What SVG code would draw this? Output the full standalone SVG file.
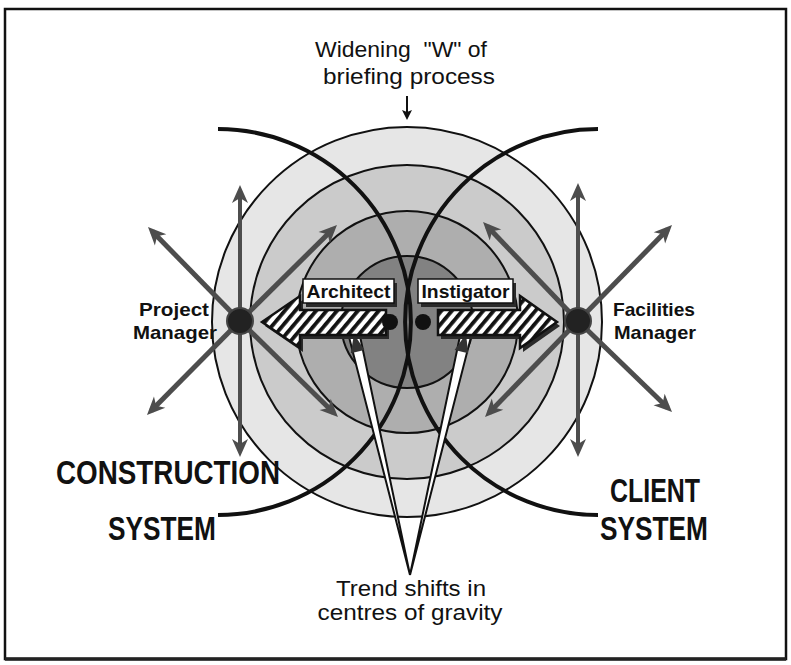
<svg xmlns="http://www.w3.org/2000/svg" width="791" height="665" viewBox="0 0 791 665">
<style>
.lbl{font-family:"Liberation Sans",Arial,sans-serif;fill:#111;}
.reg{font-weight:normal;font-size:22px;}
.med{font-weight:bold;font-size:19px;}
.big{font-weight:bold;font-size:33px;}
.ring{stroke:#111;stroke-width:2;}
.sys{fill:none;stroke:#111;stroke-width:4;}
.ga{stroke:#4d4d4d;stroke-width:5;fill:none;marker-end:url(#ah);}
.gv{stroke:#4d4d4d;stroke-width:4;fill:none;marker-start:url(#ah);marker-end:url(#ah);}
.hat{fill:url(#hatch);stroke:#111;stroke-width:2.5;stroke-linejoin:miter;}
.shadow{fill:#2a2a2a;}
.box{fill:#fff;stroke:#111;stroke-width:1.5;}
.wedge{fill:#fff;stroke:#111;stroke-width:2;stroke-linejoin:miter;}
</style>
<defs>
<pattern id="hatch" patternUnits="userSpaceOnUse" width="8" height="8" patternTransform="rotate(40)">
<rect width="8" height="8" fill="#fff"/>
<rect x="0" y="0" width="3.8" height="8" fill="#111"/>
</pattern>
<marker id="ah" viewBox="-13 -9 20 18" refX="0" refY="0" markerWidth="20" markerHeight="18" markerUnits="userSpaceOnUse" orient="auto-start-reverse">
<path d="M6,0 L-12,-8 L-7,0 L-12,8 Z" fill="#4d4d4d"/>
</marker>
<marker id="bk" viewBox="-10 -6 12 12" refX="0" refY="0" markerWidth="12" markerHeight="12" markerUnits="userSpaceOnUse" orient="auto">
<path d="M2,0 L-8,-5 L-6,0 L-8,5 Z" fill="#111"/>
</marker>
</defs>
<rect x="0" y="0" width="791" height="665" fill="#fff"/>
<rect x="5" y="9" width="781" height="650" fill="none" stroke="#111" stroke-width="2.5"/>
<line x1="5" y1="659" x2="786" y2="659" stroke="#222" stroke-width="3.5"/>

<g id="rings">
<circle cx="407" cy="322" r="195" fill="#e6e6e6" class="ring"/>
<circle cx="407" cy="322" r="157" fill="#cbcbcb" class="ring"/>
<circle cx="407" cy="322" r="111" fill="#aeaeae" class="ring"/>
<circle cx="407" cy="322" r="66" fill="#828282" class="ring"/>
</g>

<g id="construction-system-arc">
<path class="sys" d="M218 129 A193 193 0 0 1 218 515"/>
</g>
<g id="client-system-arc">
<path class="sys" d="M598 129 A193 193 0 0 0 598 515"/>
</g>

<g id="connectors">
<line class="gv" x1="240" y1="191" x2="240" y2="451"/>
<line class="ga" x1="240" y1="321" x2="152.2" y2="231.3"/>
<line class="ga" x1="240" y1="321" x2="332.7" y2="229.2"/>
<line class="ga" x1="240" y1="321" x2="151.2" y2="410.7"/>
<line class="ga" x1="240" y1="321" x2="333.7" y2="412.8"/>
<line class="gv" x1="578" y1="189" x2="578" y2="451"/>
<line class="ga" x1="578" y1="321" x2="487.2" y2="226.3"/>
<line class="ga" x1="578" y1="321" x2="667.8" y2="229.3"/>
<line class="ga" x1="578" y1="321" x2="489.2" y2="412.7"/>
<line class="ga" x1="578" y1="321" x2="667.7" y2="407.8"/>
<line x1="407" y1="96" x2="407" y2="118" stroke="#111" stroke-width="2" marker-end="url(#bk)"/>
<polygon class="wedge" points="349,337 360,336 410,575"/>
<polygon class="wedge" points="460,336 471,337 410,575"/>
<polygon points="354,334 364.4,350 350.8,353.2" fill="#333"/>
<polygon points="466,334 468.2,353.2 454.6,350" fill="#333"/>
</g>

<g id="architect">
<polygon class="shadow" points="265,326 303,300 303,314 389,314 389,339 303,339 303,352"/>
<polygon class="hat" points="262,322 300,296 300,310 386,310 386,335 300,335 300,348"/>
<rect class="shadow" x="306" y="283" width="91" height="24"/>
<rect class="box" x="303" y="279" width="91" height="24"/>
<text class="lbl med" x="348.5" y="297.5" text-anchor="middle" textLength="84" lengthAdjust="spacingAndGlyphs">Architect</text>
<circle cx="390" cy="322" r="8" fill="#111"/>
</g>

<g id="instigator">
<polygon class="shadow" points="441,314 523,314 523,300 560,326 523,352 523,339 441,339"/>
<polygon class="hat" points="438,310 520,310 520,296 557,322 520,348 520,335 438,335"/>
<rect class="shadow" x="421" y="283" width="95" height="24"/>
<rect class="box" x="418" y="279" width="95" height="24"/>
<text class="lbl med" x="465.5" y="297.5" text-anchor="middle" textLength="88" lengthAdjust="spacingAndGlyphs">Instigator</text>
<circle cx="423" cy="322" r="8" fill="#111"/>
</g>

<g id="project-manager">
<circle cx="240" cy="321" r="13" fill="#222" stroke="#444" stroke-width="2"/>
<text class="lbl med" x="174" y="316" text-anchor="middle" font-size="21" textLength="70" lengthAdjust="spacingAndGlyphs">Project</text>
<text class="lbl med" x="175" y="339" text-anchor="middle" font-size="21" textLength="84" lengthAdjust="spacingAndGlyphs">Manager</text>
</g>

<g id="facilities-manager">
<circle cx="578" cy="321" r="13" fill="#222" stroke="#444" stroke-width="2"/>
<text class="lbl med" x="654" y="316" text-anchor="middle" font-size="21" textLength="82" lengthAdjust="spacingAndGlyphs">Facilities</text>
<text class="lbl med" x="655" y="339" text-anchor="middle" font-size="21" textLength="82" lengthAdjust="spacingAndGlyphs">Manager</text>
</g>

<g id="briefing-label">
<text class="lbl reg" x="401" y="57" text-anchor="middle" textLength="172" lengthAdjust="spacingAndGlyphs" xml:space="preserve">Widening  "W" of</text>
<text class="lbl reg" x="409" y="84" text-anchor="middle" textLength="172" lengthAdjust="spacingAndGlyphs">briefing process</text>
</g>

<g id="construction-system">
<text class="lbl big" x="168" y="484" text-anchor="middle" textLength="224" lengthAdjust="spacingAndGlyphs">CONSTRUCTION</text>
<text class="lbl big" x="162" y="540" text-anchor="middle" textLength="108" lengthAdjust="spacingAndGlyphs">SYSTEM</text>
</g>

<g id="client-system">
<text class="lbl big" x="655" y="502" text-anchor="middle" textLength="90" lengthAdjust="spacingAndGlyphs">CLIENT</text>
<text class="lbl big" x="654" y="540" text-anchor="middle" textLength="108" lengthAdjust="spacingAndGlyphs">SYSTEM</text>
</g>

<g id="trend-label">
<text class="lbl reg" x="411" y="596" text-anchor="middle" textLength="150" lengthAdjust="spacingAndGlyphs">Trend shifts in</text>
<text class="lbl reg" x="410" y="620" text-anchor="middle" textLength="185" lengthAdjust="spacingAndGlyphs">centres of gravity</text>
</g>
</svg>
